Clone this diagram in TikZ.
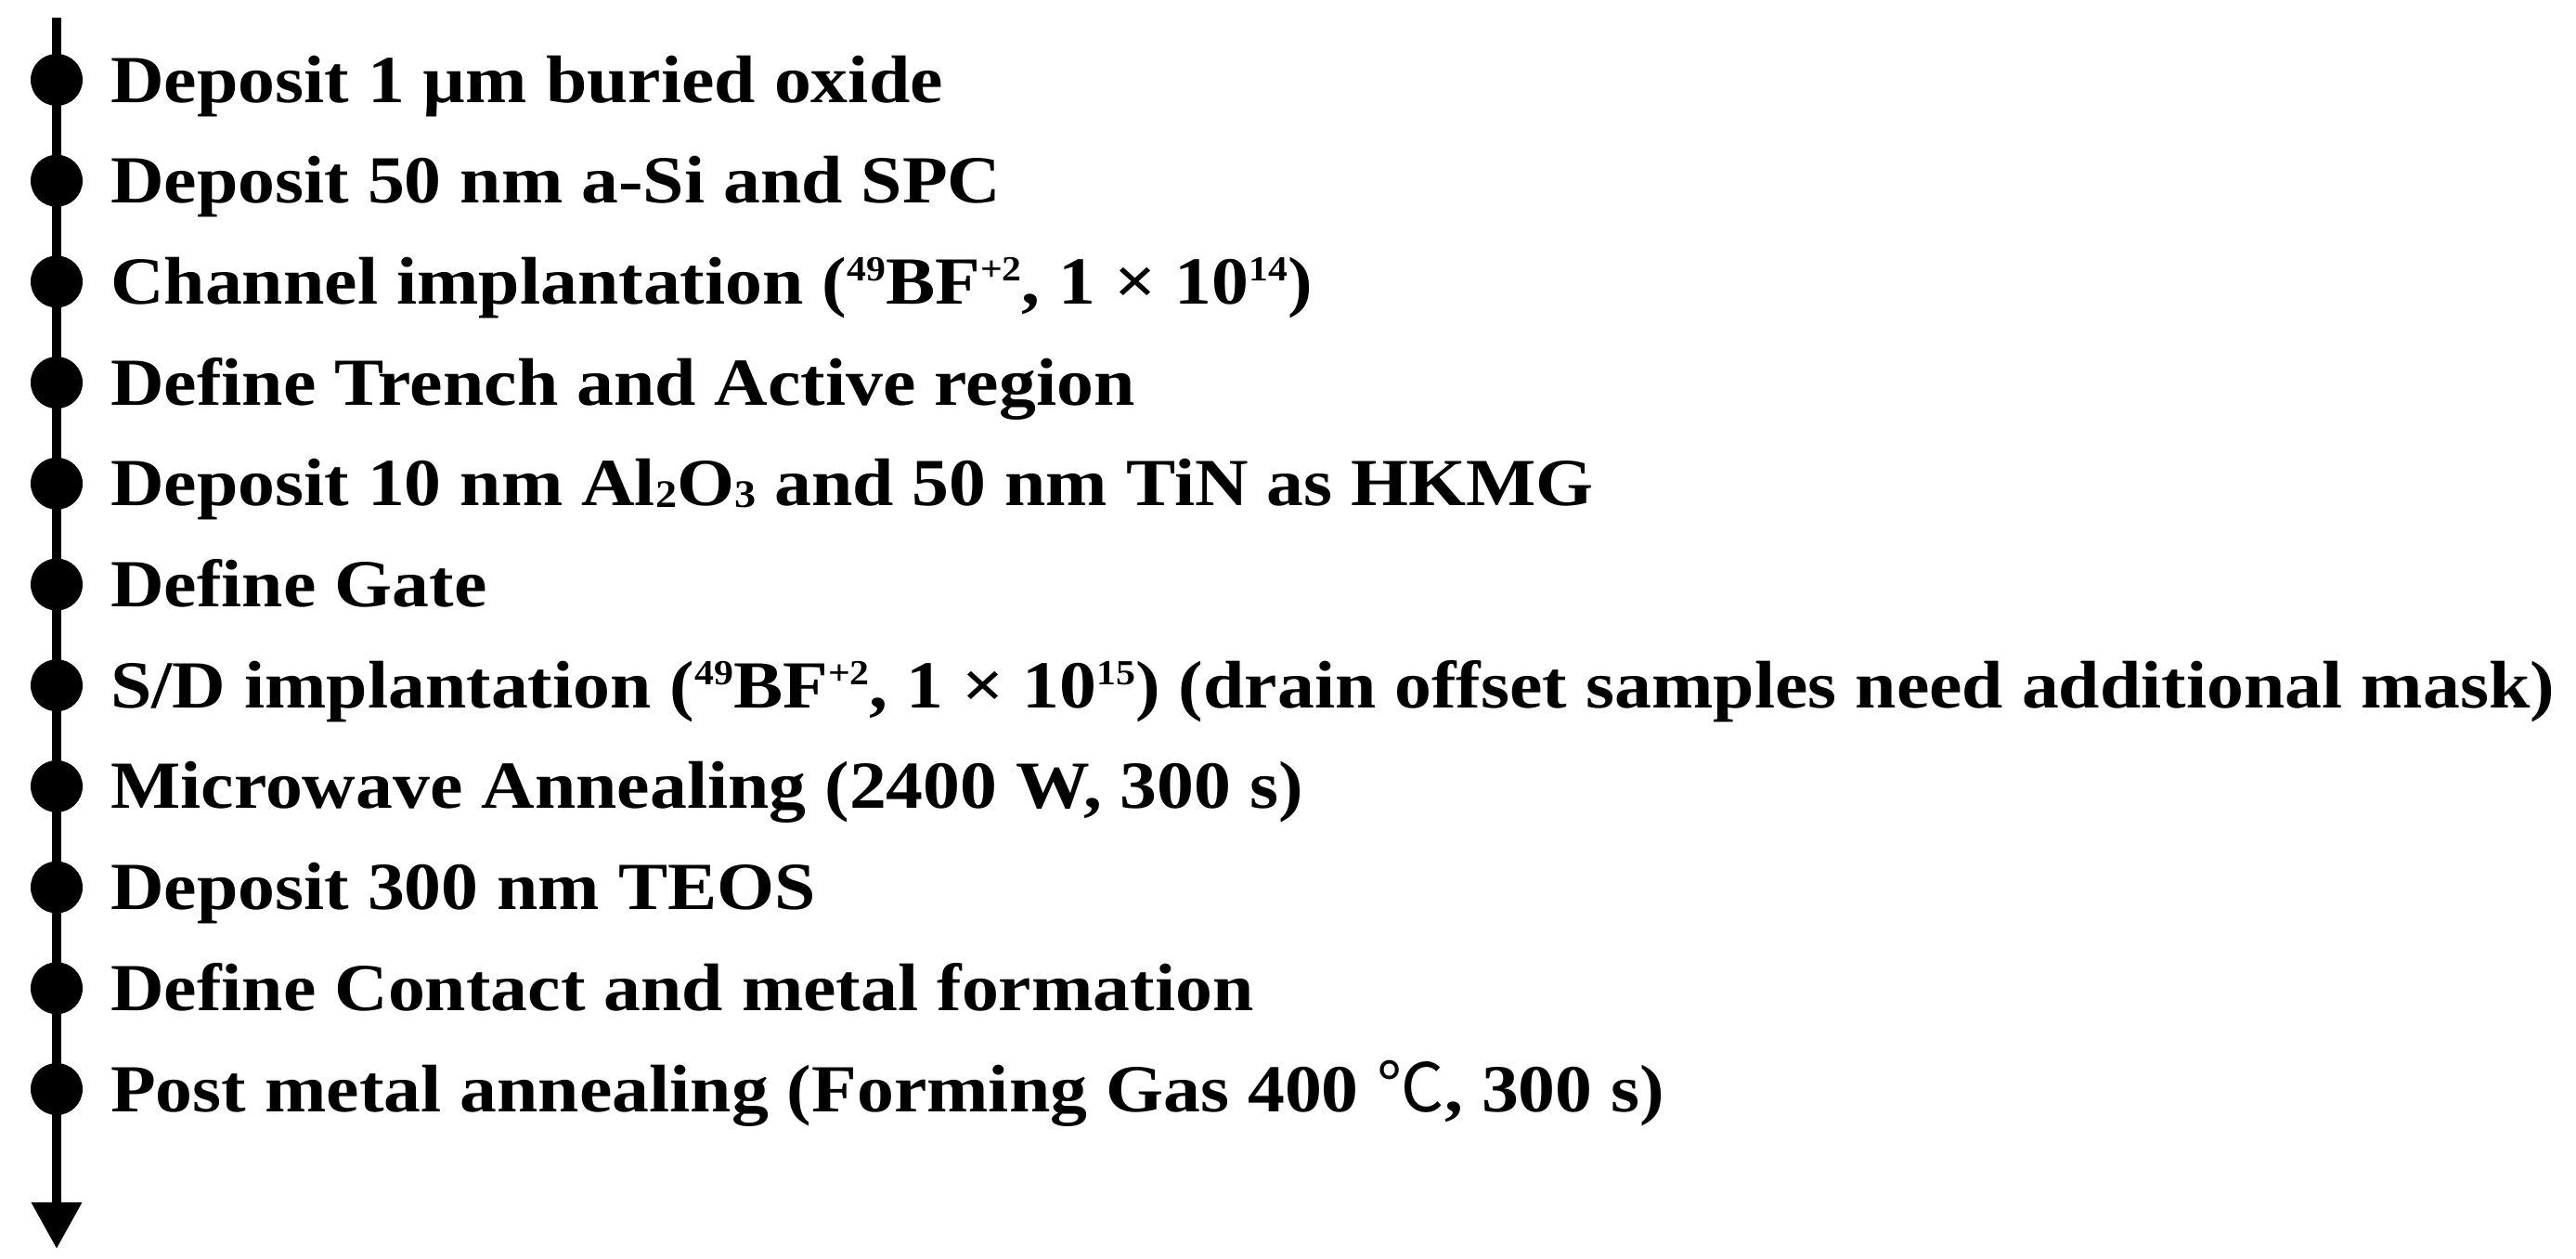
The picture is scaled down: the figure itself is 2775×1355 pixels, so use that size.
\documentclass[tikz,border=0pt]{standalone}
\usepackage{fontspec}
\setmainfont{Liberation Serif}[FakeStretch=1.10]
\newfontfamily\cjk{Noto Sans CJK SC}
\usetikzlibrary{arrows.meta}
\newcommand\mysup[1]{\raisebox{0.34em}{\fontsize{38}{38}\selectfont #1}}
\newcommand\mysub[1]{\raisebox{-0.02em}{\fontsize{42}{42}\selectfont #1}}
\tikzset{
  dotnode/.style={circle,fill=black,minimum size=56pt,inner sep=0pt},
  stepline/.style={anchor=base west,inner sep=0pt,font=\fontsize{72.5}{80}\selectfont\bfseries},
  axisline/.style={line width=10pt,-{Triangle[length=50pt,width=52pt]}}
}
\begin{document}
\begin{tikzpicture}[x=1pt,y=-1pt]
\useasboundingbox (0,0) rectangle (2775,1355);
\coordinate (top) at (61,19);
\coordinate (bot) at (61,1345);
\draw[axisline] (top) -- (bot);
\foreach \i in {1,...,11}{
  \node[dotnode] (d\i) at (61,{86+(\i-1)*108.7}) {};
}
\node[stepline] (t1) at (119,{110+0*108.7}) {Deposit 1 µm buried oxide};
\node[stepline] (t2) at (119,{110+1*108.7}) {Deposit 50 nm a-Si and SPC};
\node[stepline] (t3) at (119,{110+2*108.7}) {Channel implantation (\mysup{49}BF\mysup{+2}, 1 × 10\mysup{14})};
\node[stepline] (t4) at (119,{110+3*108.7}) {Define Trench and Active region};
\node[stepline] (t5) at (119,{110+4*108.7}) {Deposit 10 nm Al\mysub{2}O\mysub{3} and 50 nm TiN as HKMG};
\node[stepline] (t6) at (119,{110+5*108.7}) {Define Gate};
\node[stepline] (t7) at (119,{110+6*108.7}) {S/D implantation (\mysup{49}BF\mysup{+2}, 1 × 10\mysup{15}) (drain offset samples need additional mask)};
\node[stepline] (t8) at (119,{110+7*108.7}) {Microwave Annealing (2400 W, 300 s)};
\node[stepline] (t9) at (119,{110+8*108.7}) {Deposit 300 nm TEOS};
\node[stepline] (t10) at (119,{110+9*108.7}) {Define Contact and metal formation};
\node[stepline] (t11) at (119,{110+10*108.7}) {Post metal annealing (Forming Gas 400 {\cjk\mdseries ℃}, 300 s)};
\end{tikzpicture}
\end{document}
